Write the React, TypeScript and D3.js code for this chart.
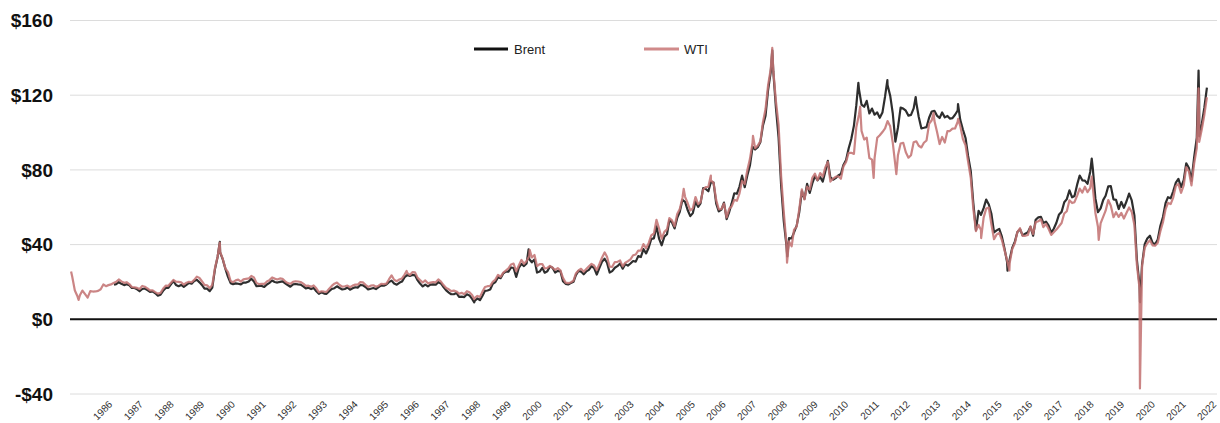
import React from 'react';
import * as d3 from 'd3';

const yTicks = [-40, 0, 40, 80, 120, 160];
const yearLabels = d3.range(1986, 2023).map(String);

// WTI, monthly average $/bbl, Jan 1986 .. May 2022
const wtiMonthly = [
  22.93, 15.46, 12.61, 12.84, 15.38, 13.43, 11.59, 15.1, 14.87, 14.9, 15.22, 16.11, // 1986
  18.65, 17.75, 18.3, 18.68, 19.44, 20.07, 21.34, 20.31, 19.53, 19.86, 18.85, 17.28, // 1987
  17.13, 16.8, 16.2, 17.86, 17.42, 16.53, 15.5, 15.52, 14.54, 13.77, 14.14, 16.38, // 1988
  18.02, 17.94, 19.48, 21.07, 20.12, 20.05, 19.78, 18.58, 19.59, 20.1, 19.86, 21.1, // 1989
  22.86, 22.11, 20.39, 18.43, 18.2, 16.7, 18.45, 27.31, 33.51, 36.04, 32.33, 27.28, // 1990
  25.23, 20.48, 19.9, 20.83, 21.23, 20.19, 21.4, 21.69, 21.89, 23.23, 22.46, 19.5, // 1991
  18.79, 19.01, 18.92, 20.23, 20.98, 22.39, 21.78, 21.34, 21.88, 21.69, 20.34, 19.41, // 1992
  19.03, 20.09, 20.32, 20.25, 19.95, 19.09, 17.89, 18.01, 17.5, 18.15, 16.61, 14.52, // 1993
  15.03, 14.78, 14.68, 16.42, 17.89, 19.06, 19.66, 18.38, 17.45, 17.72, 18.07, 17.16, // 1994
  18.04, 18.57, 18.54, 19.9, 19.74, 18.45, 17.33, 18.02, 18.23, 17.43, 17.99, 19.03, // 1995
  18.86, 19.09, 21.33, 23.5, 21.17, 20.42, 21.3, 21.9, 23.97, 24.88, 23.71, 25.23, // 1996
  25.13, 22.18, 20.97, 19.7, 20.82, 19.26, 19.66, 19.95, 19.8, 21.33, 20.19, 18.33, // 1997
  16.72, 16.06, 15.12, 15.35, 14.91, 13.72, 14.17, 13.47, 15.03, 14.46, 13.0, 11.35, // 1998
  12.52, 12.01, 14.68, 17.31, 17.72, 17.92, 20.1, 21.28, 23.8, 22.69, 25.0, 26.1, // 1999
  27.26, 29.37, 29.84, 25.72, 28.79, 31.82, 29.7, 31.26, 33.88, 33.11, 34.42, 28.44, // 2000
  29.59, 29.61, 27.24, 27.49, 28.63, 27.6, 26.43, 27.37, 26.2, 22.17, 19.64, 19.39, // 2001
  19.72, 20.72, 24.53, 26.18, 27.04, 25.52, 26.97, 28.39, 29.66, 28.84, 26.35, 29.46, // 2002
  32.95, 35.83, 33.51, 28.17, 28.11, 30.66, 30.75, 31.57, 28.31, 30.34, 31.11, 32.13, // 2003
  34.31, 34.69, 36.74, 36.75, 40.28, 38.03, 40.78, 44.9, 45.94, 53.28, 48.47, 43.15, // 2004
  46.84, 48.15, 54.19, 52.98, 49.83, 56.35, 59.0, 64.99, 65.59, 62.26, 58.32, 59.41, // 2005
  65.49, 61.63, 62.69, 69.44, 70.84, 70.95, 74.41, 73.04, 63.8, 58.89, 59.08, 61.96, // 2006
  54.51, 59.28, 60.44, 63.98, 63.46, 67.49, 74.12, 72.36, 79.92, 85.8, 94.77, 91.69, // 2007
  92.97, 95.39, 105.45, 112.58, 125.4, 133.88, 133.37, 116.67, 104.11, 76.61, 57.31, 41.12, // 2008
  41.71, 39.09, 47.94, 49.65, 59.03, 69.64, 64.15, 71.05, 69.41, 75.72, 77.99, 74.47, // 2009
  78.33, 76.39, 81.2, 84.29, 73.74, 75.34, 76.32, 76.6, 75.24, 81.89, 84.25, 89.15, // 2010
  89.17, 88.58, 102.86, 109.53, 100.9, 96.26, 97.3, 86.33, 85.52, 86.32, 97.16, 98.56, // 2011
  100.27, 102.2, 106.16, 103.32, 94.66, 82.3, 87.9, 94.13, 94.51, 89.49, 86.53, 87.86, // 2012
  94.76, 95.31, 92.94, 92.02, 94.51, 95.77, 104.67, 106.57, 106.29, 100.54, 93.86, 97.63, // 2013
  94.62, 100.82, 100.8, 102.07, 102.18, 105.79, 103.59, 96.54, 93.21, 84.4, 75.79, 59.29, // 2014
  47.22, 50.58, 47.82, 54.45, 59.27, 59.82, 50.9, 42.87, 45.48, 46.22, 42.44, 37.19, // 2015
  31.68, 30.32, 37.55, 40.75, 46.71, 48.76, 44.65, 44.72, 45.18, 49.78, 45.66, 51.97, // 2016
  52.5, 53.47, 49.33, 51.06, 48.48, 45.18, 46.63, 48.04, 49.82, 51.58, 56.64, 57.88, // 2017
  63.7, 62.23, 62.73, 66.25, 69.98, 67.87, 70.98, 68.06, 70.23, 70.75, 56.96, 49.52, // 2018
  51.38, 54.95, 58.15, 63.86, 60.83, 54.66, 57.35, 54.81, 56.95, 53.96, 57.03, 59.88, // 2019
  57.52, 50.54, 29.21, 16.55, 28.56, 38.31, 40.71, 42.34, 39.63, 39.4, 40.94, 47.02, // 2020
  52.0, 59.04, 62.33, 61.72, 65.17, 71.38, 72.49, 67.73, 71.65, 81.48, 79.15, 71.71, // 2021
  83.22, 91.64, 108.5, 101.78, 109.55, // 2022
];

// Brent, monthly average $/bbl, Jun 1987 .. May 2022
const brentMonthly = [
  18.86, 19.86, 18.98, 18.31, 18.76, 18.23, 16.78, // 1987
  16.75, 16.08, 15.02, 16.24, 16.49, 15.61, 14.66, 14.93, 13.93, 12.68, 13.14, 15.27, // 1988
  16.82, 16.84, 18.63, 20.52, 18.39, 17.74, 18.42, 17.42, 18.42, 19.47, 19.07, 20.48, // 1989
  21.16, 19.78, 18.42, 16.38, 16.43, 15.06, 16.97, 26.76, 33.4, 35.77, 32.04, 27.13, // 1990
  22.72, 19.36, 18.81, 19.24, 19.05, 18.68, 19.64, 19.69, 20.28, 21.71, 20.3, 17.71, // 1991
  17.84, 17.88, 17.35, 18.66, 19.52, 20.77, 19.97, 19.68, 20.02, 20.27, 19.32, 18.36, // 1992
  17.45, 18.7, 18.9, 18.68, 18.53, 17.62, 16.51, 16.9, 16.19, 16.81, 15.05, 13.68, // 1993
  14.52, 13.79, 13.64, 15.05, 16.24, 16.66, 17.67, 16.77, 15.98, 16.24, 17.02, 15.88, // 1994
  16.57, 17.16, 16.96, 18.35, 18.24, 17.32, 15.98, 16.37, 16.75, 16.21, 17.19, 18.18, // 1995
  17.98, 18.68, 19.9, 20.7, 19.16, 18.53, 19.54, 20.19, 22.58, 23.7, 23.21, 23.77, // 1996
  23.54, 20.85, 19.12, 17.58, 18.58, 17.64, 18.54, 18.69, 18.54, 19.89, 19.18, 17.27, // 1997
  15.46, 14.34, 13.42, 13.42, 14.11, 12.03, 12.13, 11.92, 13.4, 12.77, 10.89, 9.81, // 1998
  11.14, 10.27, 12.5, 15.25, 15.41, 15.92, 19.0, 19.94, 22.53, 22.03, 24.55, 25.57, // 1999
  25.51, 27.76, 27.47, 22.66, 27.56, 29.66, 28.52, 29.93, 32.14, 30.52, 32.05, 25.03, // 2000
  25.57, 27.54, 24.96, 25.69, 28.26, 27.64, 25.07, 25.94, 25.75, 20.43, 18.98, 18.68, // 2001
  19.38, 20.08, 23.63, 25.91, 25.56, 24.14, 25.64, 26.46, 28.46, 27.43, 23.99, 27.42, // 2002
  30.78, 32.45, 30.31, 25.04, 25.81, 27.63, 28.46, 29.9, 27.12, 29.56, 28.74, 29.87, // 2003
  31.22, 30.89, 33.82, 33.34, 37.6, 35.27, 38.35, 43.03, 43.35, 49.77, 43.05, 39.65, // 2004
  44.28, 45.56, 53.08, 51.86, 48.67, 54.31, 57.58, 63.98, 62.91, 58.54, 55.24, 56.86, // 2005
  62.99, 60.21, 62.06, 70.26, 69.78, 68.56, 73.67, 73.23, 61.96, 57.81, 58.76, 62.47, // 2006
  53.68, 57.56, 62.05, 67.49, 67.21, 71.05, 76.93, 70.76, 77.17, 82.34, 92.41, 90.93, // 2007
  92.18, 94.99, 103.64, 109.07, 122.8, 132.32, 132.72, 113.24, 97.23, 71.58, 52.45, 39.95, // 2008
  43.44, 43.32, 46.54, 50.18, 57.3, 68.61, 64.44, 72.51, 67.65, 72.77, 76.66, 74.46, // 2009
  76.17, 73.75, 78.83, 84.82, 75.95, 74.76, 75.58, 77.04, 77.84, 82.67, 85.28, 91.45, // 2010
  96.52, 103.72, 114.64, 123.26, 114.99, 113.83, 116.97, 110.22, 112.83, 109.55, 110.77, 107.87, // 2011
  110.69, 119.33, 125.45, 119.75, 110.34, 95.16, 102.62, 113.36, 112.86, 111.71, 109.06, 109.49, // 2012
  112.96, 116.05, 108.47, 102.25, 102.56, 102.92, 107.93, 111.28, 111.6, 109.08, 107.79, 110.76, // 2013
  108.12, 108.9, 107.48, 107.76, 109.54, 111.8, 106.77, 101.61, 97.09, 87.43, 79.44, 62.34, // 2014
  47.76, 58.1, 55.89, 59.52, 64.08, 61.48, 56.56, 46.52, 47.62, 48.43, 44.27, 38.01, // 2015
  30.7, 32.18, 38.21, 41.58, 46.74, 48.25, 44.95, 45.84, 46.57, 49.52, 44.73, 53.31, // 2016
  54.58, 54.87, 51.59, 52.31, 50.33, 46.37, 48.48, 51.7, 56.15, 57.51, 62.71, 64.37, // 2017
  69.08, 65.32, 66.02, 72.11, 76.98, 74.41, 74.25, 72.53, 78.89, 81.03, 64.75, 57.36, // 2018
  59.41, 63.96, 66.14, 71.23, 71.32, 64.22, 63.92, 59.04, 62.83, 59.71, 63.21, 67.31, // 2019
  63.65, 55.66, 32.01, 18.38, 29.38, 40.27, 43.24, 44.74, 40.91, 40.19, 42.69, 49.99, // 2020
  54.77, 62.28, 65.41, 64.81, 68.53, 73.16, 75.17, 70.75, 74.49, 83.54, 81.05, 74.17, // 2021
  86.51, 97.13, 117.25, 104.58, 113.34, // 2022
];

// single-day highs and lows visible in the chart
const wtiDays: [string, number][] = [
  ['1986-01-02', 25.6], ['1986-03-31', 10.4], ['1990-10-11', 41.0], ['1996-10-08', 25.9],
  ['1998-12-10', 10.8], ['2000-09-20', 37.2], ['2005-08-30', 69.8], ['2006-07-14', 77.0],
  ['2007-11-20', 98.2], ['2008-07-03', 145.3], ['2008-12-23', 30.3], ['2011-04-29', 113.9],
  ['2011-10-04', 75.7], ['2012-06-26', 77.7], ['2013-09-06', 110.5], ['2014-06-20', 107.3],
  ['2015-03-17', 43.5], ['2016-02-11', 26.2], ['2018-10-03', 76.4], ['2018-12-24', 42.5],
  ['2020-04-20', -37.0], ['2022-03-08', 123.7], ['2022-03-16', 95.0], ['2022-06-14', 118.9],
];
const brentDays: [string, number][] = [
  ['1987-05-20', 18.6], ['1990-10-11', 41.5], ['1998-12-10', 9.1], ['2000-09-07', 37.4],
  ['2008-07-03', 144.0], ['2008-12-26', 33.7], ['2011-04-08', 126.6], ['2012-03-13', 128.1],
  ['2013-02-08', 119.0], ['2014-06-19', 115.2], ['2016-01-20', 26.0], ['2018-10-03', 86.1],
  ['2020-04-21', 9.1], ['2022-03-08', 133.2], ['2022-03-16', 98.0], ['2022-06-14', 124.0],
];

type Pt = { date: Date; value: number };

function buildSeries(monthly: number[], year: number, month: number, days: [string, number][]): Pt[] {
  const pts: Pt[] = monthly.map((v, i) => ({ date: new Date(Date.UTC(year, month + i, 15)), value: v }));
  days.forEach(([d, v]) => pts.push({ date: new Date(d + 'T00:00:00Z'), value: v }));
  return pts.sort((a, b) => +a.date - +b.date);
}

const wti = buildSeries(wtiMonthly, 1986, 0, wtiDays);
const brent = buildSeries(brentMonthly, 1987, 5, brentDays);

const width = 1220;
const height = 423;
const plotLeft = 70;
const plotRight = 1217;
const font = '"Liberation Sans", Arial, Helvetica, sans-serif';

export default function App() {
  const x = d3
    .scaleUtc()
    .domain([new Date('1986-01-01T00:00:00Z'), new Date('2022-06-15T00:00:00Z')])
    .range([71, 1207]);
  const y = d3.scaleLinear().domain([-40, 160]).range([394, 20.5]);
  const labelX = d3.scalePoint<string>().domain(yearLabels).range([113, plotRight]);

  const line = d3
    .line<Pt>()
    .x(d => x(d.date))
    .y(d => y(d.value));

  return (
    <svg width={width} height={height} style={{ position: 'absolute', left: 0, top: 0, background: '#fff' }}>
      {yTicks.map(t => (
        <g key={t}>
          <line x1={plotLeft} x2={plotRight} y1={y(t)} y2={y(t)}
            stroke={t === 0 ? '#111' : '#dcdcdc'} strokeWidth={t === 0 ? 2 : 1} />
          <text x={53} y={y(t)} dy="0.36em" textAnchor="end" fontFamily={font}
            fontWeight="bold" fontSize={19} fill="#111">
            {(t < 0 ? '-$' : '$') + Math.abs(t)}
          </text>
        </g>
      ))}

      {yearLabels.map(l => (
        <text key={l} transform={`translate(${labelX(l)},405) rotate(-45)`} textAnchor="end"
          fontFamily={font} fontSize={10} fill="#333">
          {l}
        </text>
      ))}

      <path d={line(brent) ?? ''} fill="none" stroke="#2e2e2e" strokeWidth={2.2} strokeLinejoin="round" />
      <path d={line(wti) ?? ''} fill="none" stroke="#c47474" strokeOpacity={0.88} strokeWidth={2.2} strokeLinejoin="round" />

      <g fontFamily={font} fontSize={13} fill="#222">
        <line x1={474} x2={508} y1={49} y2={49} stroke="#111" strokeWidth={3} />
        <text x={514} y={53.5}>Brent</text>
        <line x1={644} x2={679} y1={49} y2={49} stroke="#d08a8a" strokeWidth={3} />
        <text x={684} y={53.5}>WTI</text>
      </g>
    </svg>
  );
}
